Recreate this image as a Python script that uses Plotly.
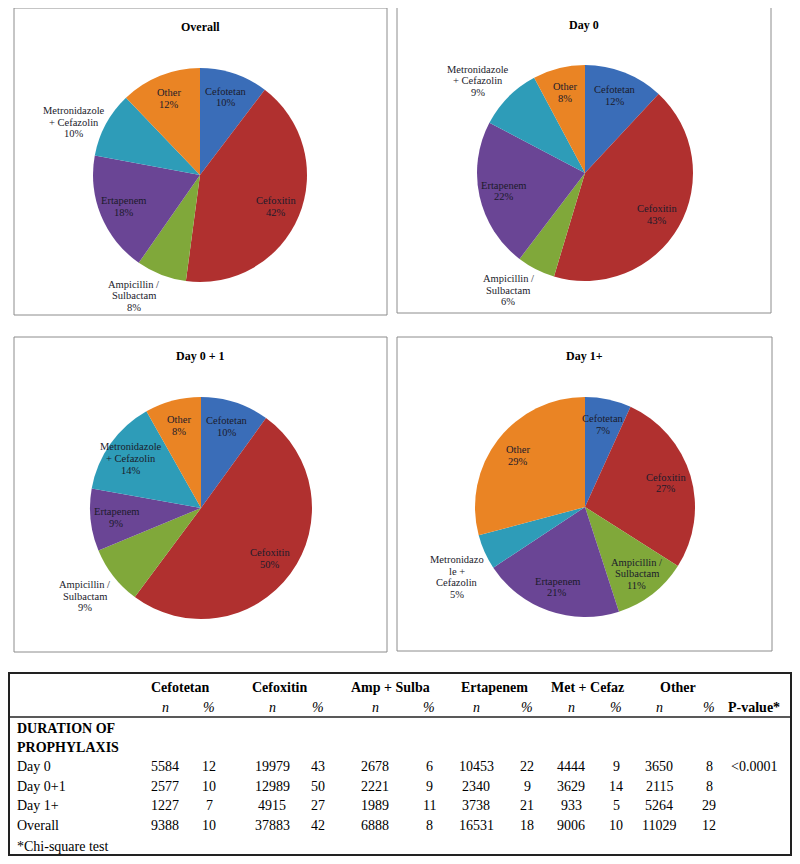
import math
import plotly.graph_objects as go

# The page body has an 8px margin on every side, so the figure is drawn
# 16px smaller and all reference pixel positions are shifted by 8px.
OFF = 8
W, H = 800 - 2 * OFF, 864 - 2 * OFF

# ---------------- data ----------------
drugs = ["Cefotetan", "Cefoxitin", "Ampicillin / Sulbactam", "Ertapenem",
         "Metronidazole + Cefazolin", "Other"]
short_names = ["Cefotetan", "Cefoxitin", "Amp + Sulba", "Ertapenem", "Met + Cefaz", "Other"]
colors = ["#3A6DB8", "#B0302F", "#80A83A", "#6A4595", "#2E9CB8", "#EA8424"]

rows = ["Day 0", "Day 0+1", "Day 1+", "Overall"]
n_day0 = [5584, 19979, 2678, 10453, 4444, 3650]
n_day01 = [2577, 12989, 2221, 2340, 3629, 2115]
n_day1p = [1227, 4915, 1989, 3738, 933, 5264]
n_overall = [9388, 37883, 6888, 16531, 9006, 11029]
pct_day0 = [12, 43, 6, 22, 9, 8]
pct_day01 = [10, 50, 9, 9, 14, 8]
pct_day1p = [7, 27, 11, 21, 5, 29]
pct_overall = [10, 42, 8, 18, 10, 12]
p_values = ["<0.0001", "", "", ""]

lab_std = [["Cefotetan"], ["Cefoxitin"], ["Ampicillin /", "Sulbactam"], ["Ertapenem"],
           ["Metronidazole", "+ Cefazolin"], ["Other"]]
lab_day1p = [["Cefotetan"], ["Cefoxitin"], ["Ampicillin /", "Sulbactam"], ["Ertapenem"],
             ["Metronidazo", "le +", "Cefazolin"], ["Other"]]
# which labels sit outside the pie (others are drawn inside)
out_overall = [False, False, True, False, True, False]
out_day0 = [False, False, True, False, True, False]
out_day01 = [False, False, True, False, False, False]
out_day1p = [False, False, False, False, True, False]

SERIF = "Liberation Serif, Times New Roman, serif"
LABEL_COLOR = "#1b1b2b"
LABEL_SIZE = 10.5
LINE_STEP = 11.6   # px between label lines
CHAR_W = 4.3       # rough px width per character of a label line
INSIDE_R = 0.77    # fraction of radius where inside labels sit
OUT_GAP = 4        # px gap between pie edge and outside labels

# panels: title, values, labels, outside flags, pie center (px), radius (px), border (x0,y0,x1,y1)
panels = [
    ("Overall", n_overall, lab_std, out_overall, (200, 175), 107, (14, 8, 387, 315)),
    ("Day 0", n_day0, lab_std, out_day0, (585, 173), 108, (397, 6, 771, 313)),
    ("Day 0 + 1", n_day01, lab_std, out_day01, (201, 508), 111, (14, 337, 387, 652)),
    ("Day 1+", n_day1p, lab_day1p, out_day1p, (585, 507), 110, (397, 337, 772, 651)),
]


def px(x):
    return (x - OFF) / W


def py(y):
    return 1 - (y - OFF) / H


fig = go.Figure()
shapes = []
annotations = []

for title, vals, labs, outs, (cx, cy), r, (bx0, by0, bx1, by1) in panels:
    fig.add_trace(go.Pie(
        labels=drugs, values=vals,
        textinfo="none",
        sort=False, direction="clockwise", rotation=0,
        marker=dict(colors=colors, line=dict(width=0)),
        domain=dict(x=[px(cx - r), px(cx + r)], y=[py(cy + r), py(cy - r)]),
        showlegend=False, hoverinfo="label+value+percent",
    ))
    # data labels, placed along each slice's bisector (computed from the values)
    total = float(sum(vals))
    cum = 0.0
    for v, lab, o in zip(vals, labs, outs):
        mid = (cum + v / 2.0) / total * 2 * math.pi
        cum += v
        dx, dy = math.sin(mid), -math.cos(mid)
        lines = list(lab) + ["%d%%" % round(100 * v / total)]
        n = len(lines)
        bh = n * LINE_STEP
        bw = max(len(s) for s in lines) * CHAR_W
        if o:
            dist = r + OUT_GAP
            ax, ay = cx + dist * dx, cy + dist * dy
            if dx < -0.3:
                ax -= bw / 2
            elif dx > 0.3:
                ax += bw / 2
            if dy > 0.3:
                ay += bh / 2
            elif dy < -0.6:
                ay -= bh / 2 - 4
        else:
            dist = INSIDE_R * r
            ax, ay = cx + dist * dx, cy + dist * dy
        for i, s in enumerate(lines):
            ly = ay + (i - (n - 1) / 2.0) * LINE_STEP
            annotations.append(dict(
                text=s, x=px(ax), y=py(ly),
                xref="paper", yref="paper", showarrow=False,
                xanchor="center", yanchor="middle",
                font=dict(family=SERIF, size=LABEL_SIZE, color=LABEL_COLOR)))
    shapes.append(dict(type="rect", xref="paper", yref="paper",
                       x0=px(bx0), x1=px(bx1), y0=py(by1), y1=py(by0),
                       line=dict(color="#8c8c8c", width=1)))
    annotations.append(dict(text="<b>%s</b>" % title, x=px((bx0 + bx1) / 2), y=py(by0 + 19),
                            xref="paper", yref="paper", showarrow=False,
                            font=dict(family=SERIF, size=12, color="black"),
                            xanchor="center", yanchor="middle"))

# ---------------- table ----------------
T_X0, T_X1, T_Y0, T_Y1 = 9, 791, 673, 855
shapes.append(dict(type="rect", xref="paper", yref="paper",
                   x0=px(T_X0), x1=px(T_X1), y0=py(T_Y1), y1=py(T_Y0),
                   line=dict(color="#222", width=2)))
shapes.append(dict(type="line", xref="paper", yref="paper",
                   x0=px(T_X0), x1=px(T_X1), y0=py(717), y1=py(717),
                   line=dict(color="#222", width=1.5)))

hdr_x = [180, 279, 390, 494, 587, 678]
n_x = [165, 272, 375, 476, 571, 659]
p_x = [209, 318, 429, 527, 616, 709]
pv_x = 754


def txt(s, x, y, size=14, anchor="center", bold=False, italic=False):
    if bold:
        s = "<b>%s</b>" % s
    if italic:
        s = "<i>%s</i>" % s
    annotations.append(dict(text=s, x=px(x), y=py(y), xref="paper", yref="paper",
                            showarrow=False, xanchor=anchor, yanchor="middle",
                            font=dict(family=SERIF, size=size, color="black")))


for name, x in zip(short_names, hdr_x):
    txt(name, x, 687, bold=True)
for x in n_x:
    txt("n", x, 707, italic=True)
for x in p_x:
    txt("%", x, 707, italic=True)
txt("P-value*", pv_x, 707, bold=True)
txt("DURATION OF", 15, 728, anchor="left", bold=True)
txt("PROPHYLAXIS", 15, 747, anchor="left", bold=True)

row_y = [766, 786, 805, 825]
all_n = [n_day0, n_day01, n_day1p, n_overall]
all_p = [pct_day0, pct_day01, pct_day1p, pct_overall]
for rname, y, ns, ps, pv in zip(rows, row_y, all_n, all_p, p_values):
    txt(rname, 15, y, anchor="left")
    for v, x in zip(ns, n_x):
        txt(str(v), x, y)
    for v, x in zip(ps, p_x):
        txt(str(v), x, y)
    if pv:
        txt(pv, pv_x, y)
txt("*Chi-square test", 15, 846, anchor="left")

fig.update_layout(
    width=W, height=H,
    margin=dict(l=0, r=0, t=0, b=0),
    paper_bgcolor="white", plot_bgcolor="white",
    shapes=shapes, annotations=annotations,
)

fig.write_html("out.html")
